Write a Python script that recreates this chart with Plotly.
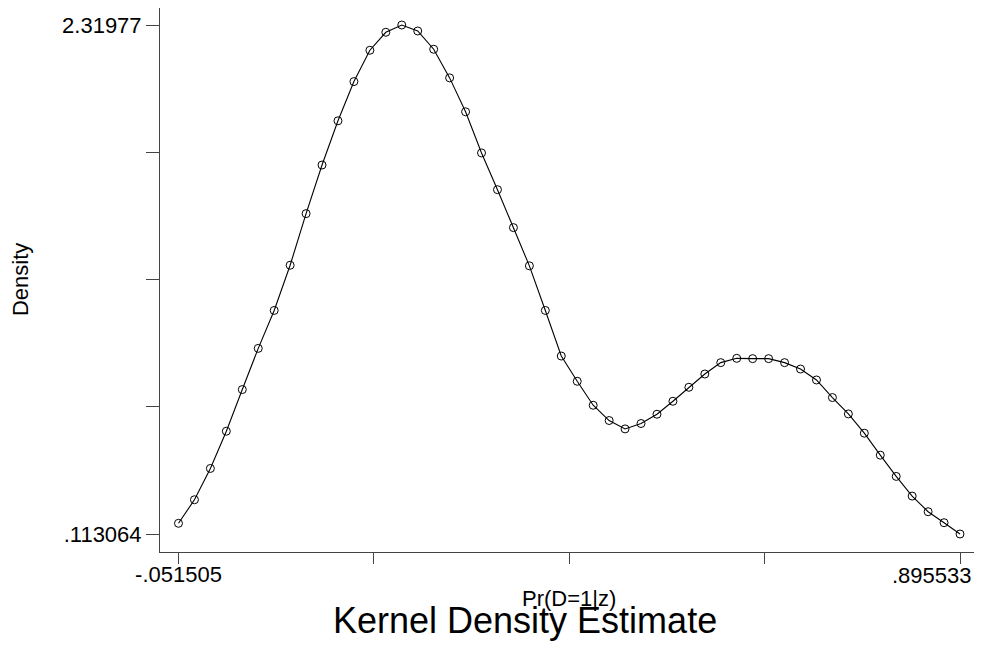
import plotly.graph_objects as go

# Evaluation grid (x) and kernel density values (y)
x_grid = [-0.051505, -0.032178, -0.012850, 0.006477, 0.025804, 0.045132, 0.064459, 0.083786,
          0.103114, 0.122441, 0.141768, 0.161096, 0.180423, 0.199750, 0.219078, 0.238405,
          0.257732, 0.277060, 0.296387, 0.315714, 0.335042, 0.354369, 0.373696, 0.393024,
          0.412351, 0.431678, 0.451006, 0.470333, 0.489660, 0.508988, 0.528315, 0.547642,
          0.566970, 0.586297, 0.605624, 0.624952, 0.644279, 0.663606, 0.682934, 0.702261,
          0.721588, 0.740916, 0.760243, 0.779570, 0.798898, 0.818225, 0.837552, 0.856880,
          0.876207, 0.895533]
density = [0.1594, 0.2615, 0.3973, 0.5587, 0.7392, 0.9179, 1.0823, 1.2783, 1.5020, 1.7127,
           1.9044, 2.0745, 2.2103, 2.2882, 2.31977, 2.2938, 2.2147, 2.0905, 1.9434, 1.7651,
           1.6058, 1.4414, 1.2757, 1.0823, 0.8846, 0.7751, 0.6712, 0.6050, 0.5687, 0.5920,
           0.6323, 0.6885, 0.7491, 0.8067, 0.8560, 0.8746, 0.8733, 0.8733, 0.8560, 0.8283,
           0.7808, 0.7046, 0.6336, 0.5501, 0.4549, 0.3627, 0.2775, 0.2096, 0.1620, 0.113064]

x_tickvals = [-0.051505, 0.185255, 0.422014, 0.658774, 0.895533]
x_ticktext = ["-.051505", "", "", "", ""]
x_last_label = ".895533"   # drawn right-aligned at the last tick so it fits inside the page
y_tickvals = [0.113064, 0.664741, 1.216417, 1.768094, 2.31977]
y_ticktext = [".113064", "", "", "", "2.31977"]

FONT = "Liberation Sans, Arial, sans-serif"

fig = go.Figure()
fig.add_trace(go.Scatter(
    x=x_grid, y=density, mode="lines+markers",
    line=dict(color="black", width=1.1),
    marker=dict(symbol="circle-open", size=8, color="black", line=dict(width=1)),
    showlegend=False, hoverinfo="x+y",
))

fig.update_layout(
    width=974, height=637,
    margin=dict(l=152, r=0, t=0, b=93, autoexpand=False),
    paper_bgcolor="white", plot_bgcolor="white",
    font=dict(family=FONT, color="black", size=22),
    xaxis=dict(
        range=[-0.073909, 0.922176], showgrid=False, zeroline=False,
        showline=True, linecolor="#444", linewidth=1, automargin=False,
        ticks="outside", ticklen=11, tickwidth=1, tickcolor="#444",
        tickvals=x_tickvals, ticktext=x_ticktext,
        tickfont=dict(family=FONT, size=22, color="black"),
        ticklabeloverflow="allow", ticklabelstandoff=-8,
    ),
    yaxis=dict(
        range=[0.035027, 2.39347], showgrid=False, zeroline=False,
        showline=True, linecolor="#444", linewidth=1, automargin=False,
        ticks="outside", ticklen=13, tickwidth=1, tickcolor="#444",
        tickvals=y_tickvals, ticktext=y_ticktext,
        tickfont=dict(family=FONT, size=22, color="black"),
        ticklabeloverflow="allow",
    ),
    annotations=[
        dict(text=x_last_label, xref="x", yref="paper", x=x_tickvals[-1], y=-0.0423,
             xanchor="right", yanchor="middle", xshift=14, showarrow=False,
             font=dict(family=FONT, size=22, color="black")),
        dict(text="Density", xref="paper", yref="paper", x=-0.1703, y=0.5,
             textangle=-90, showarrow=False, xanchor="center", yanchor="middle",
             font=dict(family=FONT, size=22, color="black")),
        dict(text="Pr(D=1|z)", xref="paper", yref="paper", x=0.4976, y=-0.0846,
             showarrow=False, xanchor="center", yanchor="middle",
             font=dict(family=FONT, size=22, color="black")),
        dict(text="Kernel Density Estimate", xref="paper", yref="paper", x=0.444, y=-0.125,
             showarrow=False, xanchor="center", yanchor="middle",
             font=dict(family=FONT, size=36, color="black")),
    ],
)

fig.write_html("out.html")
